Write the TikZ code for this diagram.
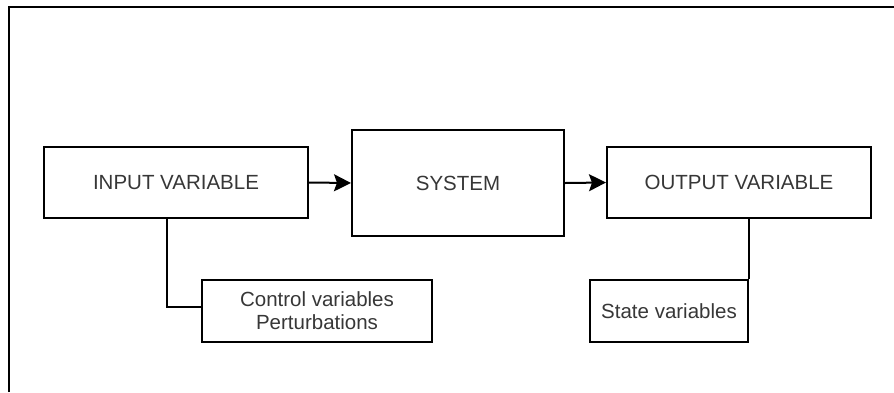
\documentclass[tikz,border=0pt]{standalone}
\usepackage{fontspec}
\setmainfont{Liberation Sans}
\usetikzlibrary{arrows.meta}
\definecolor{labelgray}{RGB}{55,55,55}
\tikzset{
  blockbox/.style={draw=black, line width=2pt, rectangle, inner sep=0pt,
    text=labelgray, font=\fontsize{20.5}{23}\selectfont, align=center},
  flow/.style={line width=2pt, -{Stealth[length=17pt,width=17pt,inset=3pt]}},
  link/.style={line width=2pt}
}
\begin{document}
\begin{tikzpicture}[x=1pt,y=-1pt]
  \useasboundingbox (0,0) rectangle (894,392);
  % outer frame (top and left edges)
  \draw[line width=2.4pt] (9,392) -- (9,7) -- (894,7);

  % main chain
  \node[blockbox, minimum width=264pt, minimum height=71pt] (in) at (176,182.5) {INPUT VARIABLE};
  \node[blockbox, minimum width=212pt, minimum height=106pt] (sys) at (458,183) {SYSTEM};
  \node[blockbox, minimum width=264pt, minimum height=71pt] (out) at (739,182.5) {OUTPUT VARIABLE};

  % annotation boxes
  \node[blockbox, minimum width=230pt, minimum height=62pt] (ctl) at (317,311) {Control variables\\Perturbations};
  \node[blockbox, minimum width=158pt, minimum height=62pt] (st) at (669,311) {State variables};

  % connectors
  \draw[flow] (in.east) -- (sys.west);
  \draw[flow] (sys.east) -- (out.west);
  \draw[link] ([xshift=-9pt]in.south) |- ([yshift=4pt]ctl.west);
  \draw[link] (st.north east |- out.south) -- (st.north east);
\end{tikzpicture}
\end{document}
